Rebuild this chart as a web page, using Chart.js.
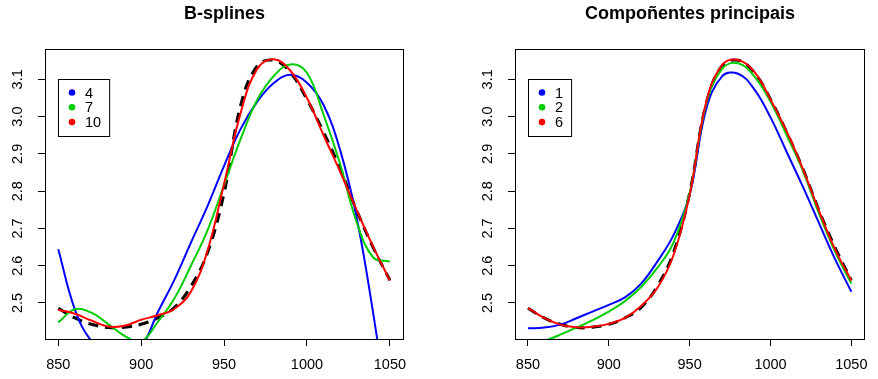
<!DOCTYPE html>
<html>
<head>
  <title>B-splines vs componentes principais</title>
  <script src="https://cdn.jsdelivr.net/npm/chart.js@4.4.1/dist/chart.umd.min.js"></script>
  <style>
    body { margin: 0; background: #fff; }
    canvas { position: absolute; top: 0; }
  </style>
</head>
<body>
  <canvas id="leftChart" width="439" height="379" style="left:0"></canvas>
  <canvas id="rightChart" width="439" height="379" style="left:439px"></canvas>

  <script>
    // wavelengths (x) and the curves
    const wavelength = [850, 860, 870, 880, 890, 900, 910, 920, 930, 940, 950,
                        960, 970, 980, 990, 1000, 1010, 1020, 1030, 1040, 1050];
    const observed   = [2.486, 2.460, 2.443, 2.434, 2.435, 2.443, 2.460, 2.488, 2.545, 2.635, 2.795,
                        3.030, 3.136, 3.151, 3.118, 3.046, 2.958, 2.860, 2.748, 2.648, 2.561];
    const bspline4   = [2.644, 2.483, 2.398, 2.370, 2.365, 2.383, 2.475, 2.562, 2.662, 2.760, 2.868,
                        2.967, 3.040, 3.090, 3.112, 3.091, 3.031, 2.910, 2.728, 2.470, 2.170];
    const bspline7   = [2.448, 2.483, 2.474, 2.444, 2.412, 2.397, 2.449, 2.512, 2.600, 2.695, 2.817,
                        2.940, 3.045, 3.109, 3.140, 3.117, 3.005, 2.873, 2.716, 2.622, 2.611];
    const bspline10  = [2.482, 2.471, 2.453, 2.437, 2.439, 2.455, 2.467, 2.484, 2.530, 2.640, 2.820,
                        3.010, 3.128, 3.154, 3.123, 3.050, 2.950, 2.852, 2.749, 2.650, 2.560];
    const pc1        = [2.432, 2.434, 2.442, 2.459, 2.477, 2.495, 2.515, 2.552, 2.611, 2.682, 2.790,
                        3.016, 3.108, 3.115, 3.073, 2.998, 2.905, 2.812, 2.714, 2.617, 2.530];
    const pc2        = [2.385, 2.398, 2.415, 2.434, 2.454, 2.477, 2.505, 2.543, 2.594, 2.662, 2.795,
                        3.030, 3.128, 3.143, 3.108, 3.040, 2.950, 2.855, 2.740, 2.637, 2.552];
    const pc6        = [2.486, 2.460, 2.442, 2.435, 2.436, 2.444, 2.460, 2.492, 2.540, 2.628, 2.790,
                        3.035, 3.138, 3.152, 3.120, 3.046, 2.960, 2.860, 2.747, 2.643, 2.560];

    const xTicks = [850, 900, 950, 1000, 1050];
    const yTicks = [2.5, 2.6, 2.7, 2.8, 2.9, 3.0, 3.1];
    const bsplineLabels = ['4', '7', '10'];
    const pcLabels = ['1', '2', '6'];
    const colors = ['#0000FF', '#00CD00', '#FF0000'];

    const FONT = 'Liberation Sans, Arial, sans-serif';

    function toPoints(ys) {
      return wavelength.map((x, i) => ({ x: x, y: ys[i] }));
    }

    // box round the plot + R style legend in the top left corner
    const boxAndLegend = {
      id: 'boxAndLegend',
      afterDraw(chart, args, opts) {
        const ctx = chart.ctx;
        const a = chart.chartArea;
        ctx.save();
        ctx.strokeStyle = '#000';
        ctx.lineWidth = 1;
        ctx.strokeRect(Math.round(a.left) + 0.5, Math.round(a.top) + 0.5,
                       Math.round(a.right - a.left) - 1, Math.round(a.bottom - a.top));

        ctx.font = '14.5px ' + FONT;
        let w = 0;
        opts.labels.forEach(l => { w = Math.max(w, ctx.measureText(l).width); });
        const lx = Math.round(a.left) + 13, ly = Math.round(a.top) + 30;
        ctx.strokeRect(lx + 0.5, ly + 0.5, 27 + w + 8, 57);
        opts.labels.forEach((l, i) => {
          const cy = ly + 13.5 + i * 14.8;
          ctx.fillStyle = colors[i];
          ctx.beginPath();
          ctx.arc(lx + 14, cy, 3.3, 0, Math.PI * 2);
          ctx.fill();
          ctx.fillStyle = '#000';
          ctx.textBaseline = 'middle';
          ctx.textAlign = 'left';
          ctx.fillText(l, lx + 27, cy + 1);
        });
        ctx.restore();
      }
    };

    function makeChart(id, title, series, labels, padLeft, padRight) {
      const ds = [];
      // first dataset is drawn on top
      for (let i = series.length - 1; i >= 0; i--) {
        ds.push({ data: toPoints(series[i]), borderColor: colors[i], borderWidth: 2 });
      }
      ds.push({ data: toPoints(observed), borderColor: '#000', borderWidth: 3, borderDash: [10, 7] });
      ds.forEach(d => { d.pointRadius = 0; d.fill = false; d.clip = 0; d.tension = 0.4; });

      const tickFont = { family: FONT, size: 14.5 };
      new Chart(document.getElementById(id), {
        type: 'line',
        data: { datasets: ds },
        plugins: [boxAndLegend],
        options: {
          responsive: false,
          animation: false,
          devicePixelRatio: 1,
          layout: { padding: { left: padLeft, right: padRight, top: 0, bottom: 0 } },
          plugins: {
            legend: { display: false },
            tooltip: { enabled: false },
            title: {
              display: true, text: title, fullSize: false, color: '#000',
              font: { family: FONT, size: 18, weight: 'bold' },
              padding: { top: 3, bottom: 24.4 }
            },
            boxAndLegend: { labels: labels }
          },
          scales: {
            x: {
              type: 'linear', min: 842, max: 1058.5,
              afterBuildTicks: s => { s.ticks = xTicks.map(v => ({ value: v })); },
              afterFit: s => { s.height = 40; },
              grid: { drawOnChartArea: false, tickLength: 7, color: '#000' },
              border: { display: false },
              ticks: { color: '#000', font: tickFont, padding: 10, maxRotation: 0, callback: v => String(v) }
            },
            y: {
              type: 'linear', min: 2.4034, max: 3.1813,
              afterBuildTicks: s => { s.ticks = yTicks.map(v => ({ value: v })); },
              afterFit: s => { s.width = 45; },
              grid: { drawOnChartArea: false, tickLength: 7, color: '#000' },
              border: { display: false },
              ticks: { color: '#000', font: tickFont, padding: 10, minRotation: 90, maxRotation: 90,
                       crossAlign: 'center', callback: v => v.toFixed(1) }
            }
          }
        }
      });
    }

    makeChart('leftChart', 'B-splines', [bspline4, bspline7, bspline10], bsplineLabels, 0, 35);
    makeChart('rightChart', 'Compoñentes principais', [pc1, pc2, pc6], pcLabels, 31, 5);
  </script>
</body>
</html>
